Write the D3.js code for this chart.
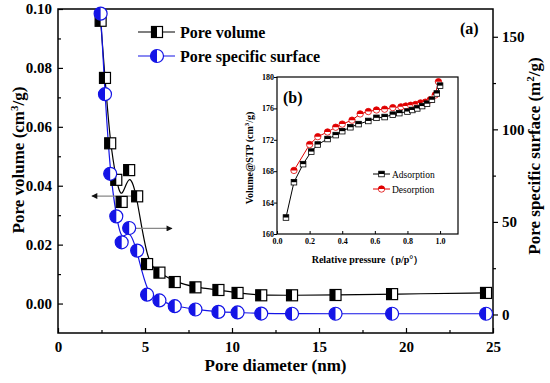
<!DOCTYPE html>
<html>
<head>
<meta charset="utf-8">
<script src="https://cdn.jsdelivr.net/npm/d3@7"></script>
<style>
  body { margin: 0; background: #fff; }
  svg { display: block; font-family: "Liberation Serif", "Times New Roman", serif; }
</style>
</head>
<body>
<script>
// pore size distribution (main plot)
var diameter = [2.45, 2.70, 3.0, 3.35, 3.66, 4.09, 4.55, 5.12, 5.83, 6.71, 7.9, 9.22, 10.32, 11.68, 13.45, 15.95, 19.2, 24.6];
var poreVolume = [0.096, 0.0766, 0.0544, 0.042, 0.0345, 0.0453, 0.0364, 0.0134, 0.0105, 0.0073, 0.0055, 0.0046, 0.0036, 0.0028, 0.0028, 0.0029, 0.0032, 0.0036];
var poreSurface = [162.5, 119, 76, 53, 39, 46.7, 34.5, 10.7, 7.6, 4.5, 2.7, 1.4, 1.1, 0.5, 0.4, 0.4, 0.4, 0.4];

// isotherm (inset)
var adsP = [0.055, 0.104, 0.16, 0.21, 0.25, 0.31, 0.36, 0.40, 0.45, 0.50, 0.56, 0.61, 0.66, 0.71, 0.75, 0.80, 0.83, 0.86, 0.89, 0.92, 0.95, 0.98, 1.0];
var adsV = [162.1, 166.6, 168.9, 170.5, 171.4, 172.1, 172.6, 173.1, 173.6, 174.0, 174.4, 174.8, 174.9, 175.2, 175.4, 175.6, 175.8, 176.0, 176.3, 176.6, 177.1, 177.9, 178.9];
var desP = [0.104, 0.20, 0.25, 0.31, 0.36, 0.40, 0.46, 0.51, 0.56, 0.61, 0.66, 0.71, 0.76, 0.79, 0.82, 0.85, 0.88, 0.91, 0.94, 0.97, 0.99];
var desV = [168.1, 171.4, 172.4, 173.0, 173.6, 174.0, 174.5, 175.3, 175.6, 175.8, 175.9, 176.1, 176.2, 176.3, 176.4, 176.5, 176.7, 176.8, 177.1, 177.7, 179.4];

var xTicks = [0, 5, 10, 15, 20, 25];
var leftTicks = [0.00, 0.02, 0.04, 0.06, 0.08, 0.10];
var rightTicks = [0, 50, 100, 150];
var insetXTicks = [0.0, 0.2, 0.4, 0.6, 0.8, 1.0];
var insetYTicks = [160, 164, 168, 172, 176, 180];

// arrows pointing to the axis each curve belongs to (data units)
var arrows = [
    {from: 4.55, to: 1.95, y: 0.0365, axis: 'left'},
    {from: 4.1, to: 6.55, y: 46.5, axis: 'right'}
];

var width = 550;
var height = 383;
var BLUE = '#1414e6';

var svg = d3.select('body').append('svg')
    .attr('width', width)
    .attr('height', height);

var defs = svg.append('defs');
defs.append('marker')
    .attr('id', 'head')
    .attr('viewBox', '0 0 10 10')
    .attr('refX', 9).attr('refY', 5)
    .attr('markerWidth', 9).attr('markerHeight', 6)
    .attr('markerUnits', 'userSpaceOnUse')
    .attr('orient', 'auto')
    .append('path')
    .attr('d', 'M0,0 L10,5 L0,10 Z')
    .attr('fill', '#111');

var m = {left: 58, right: 493, top: 9, bottom: 333};

var x = d3.scaleLinear().domain([0, 25]).range([m.left, m.right]);
var yL = d3.scaleLinear().domain([-0.01, 0.10]).range([m.bottom, m.top]);
var yR = d3.scaleLinear().domain([-10, 165]).range([m.bottom, m.top]);

// axes
var bottomAxis = svg.append('g')
    .attr('transform', 'translate(0,' + m.bottom + ')')
    .call(d3.axisBottom(x).tickValues(xTicks).tickFormat(d3.format('d')).tickSizeInner(-5).tickSizeOuter(0));
svg.append('g')
    .attr('transform', 'translate(0,' + m.bottom + ')')
    .call(d3.axisBottom(x).tickValues([2.5, 7.5, 12.5, 17.5, 22.5]).tickFormat('').tickSizeInner(-3).tickSizeOuter(0));

var leftAxis = svg.append('g')
    .attr('transform', 'translate(' + m.left + ',0)')
    .call(d3.axisLeft(yL).tickValues(leftTicks).tickFormat(d3.format('.2f')).tickSizeInner(-5).tickSizeOuter(0));
svg.append('g')
    .attr('transform', 'translate(' + m.left + ',0)')
    .call(d3.axisLeft(yL).tickValues([0.01, 0.03, 0.05, 0.07, 0.09]).tickFormat('').tickSizeInner(-3).tickSizeOuter(0));

var rightAxis = svg.append('g')
    .attr('transform', 'translate(' + m.right + ',0)')
    .call(d3.axisRight(yR).tickValues(rightTicks).tickSizeInner(5).tickSizeOuter(0));
svg.append('g')
    .attr('transform', 'translate(' + m.right + ',0)')
    .call(d3.axisRight(yR).tickValues([25, 75, 125]).tickFormat('').tickSizeInner(3).tickSizeOuter(0));

svg.selectAll('.domain').remove();
svg.selectAll('.tick line').attr('stroke', '#000').attr('stroke-width', 1.2);
[bottomAxis, leftAxis, rightAxis].forEach(function(a) {
    a.selectAll('text')
        .attr('font-family', '"Liberation Serif", serif')
        .attr('font-weight', 'bold')
        .attr('font-size', 15)
        .attr('fill', '#000');
});
bottomAxis.selectAll('text').attr('dy', '0.71em').attr('y', 8);
leftAxis.selectAll('text').attr('x', -6);
rightAxis.selectAll('text').attr('x', 9);

svg.append('rect')
    .attr('x', m.left).attr('y', m.top)
    .attr('width', m.right - m.left).attr('height', m.bottom - m.top)
    .attr('fill', 'none').attr('stroke', '#000').attr('stroke-width', 1.5);

// axis titles
svg.append('text')
    .attr('x', x(12.5)).attr('y', 371)
    .attr('text-anchor', 'middle')
    .attr('font-size', 17).attr('font-weight', 'bold')
    .text('Pore diameter (nm)');

var lt = svg.append('text')
    .attr('transform', 'translate(24,160) rotate(-90)')
    .attr('text-anchor', 'middle')
    .attr('font-size', 17).attr('font-weight', 'bold');
lt.append('tspan').text('Pore volume (cm');
lt.append('tspan').attr('dy', -6).attr('font-size', 11).text('3');
lt.append('tspan').attr('dy', 6).text('/g)');

var rt = svg.append('text')
    .attr('transform', 'translate(540,156) rotate(-90)')
    .attr('text-anchor', 'middle')
    .attr('font-size', 17).attr('font-weight', 'bold');
rt.append('tspan').text('Pore specific surface (m');
rt.append('tspan').attr('dy', -6).attr('font-size', 11).text('2');
rt.append('tspan').attr('dy', 6).text('/g)');

svg.append('text')
    .attr('x', 460).attr('y', 34)
    .attr('font-size', 16).attr('font-weight', 'bold')
    .text('(a)');

// curves
var volData = diameter.map(function(d, i) { return {x: d, y: poreVolume[i]}; });
var surfData = diameter.map(function(d, i) { return {x: d, y: poreSurface[i]}; });

svg.append('path')
    .datum(volData)
    .attr('fill', 'none').attr('stroke', '#000').attr('stroke-width', 1.2)
    .attr('d', d3.line().curve(d3.curveBasis)
        .x(function(d) { return x(d.x); })
        .y(function(d) { return yL(d.y); }));

svg.append('path')
    .datum(surfData)
    .attr('fill', 'none').attr('stroke', BLUE).attr('stroke-width', 1.2)
    .attr('d', d3.line().curve(d3.curveBasis)
        .x(function(d) { return x(d.x); })
        .y(function(d) { return yR(d.y); }));

// arrows
arrows.forEach(function(a) {
    var sy = a.axis === 'left' ? yL(a.y) : yR(a.y);
    svg.append('line')
        .attr('x1', x(a.from)).attr('x2', x(a.to))
        .attr('y1', sy).attr('y2', sy)
        .attr('stroke', '#888').attr('stroke-width', 1.2)
        .attr('marker-end', 'url(#head)');
});

function halfSquare(g, s) {
    g.append('rect')
        .attr('x', -s / 2).attr('y', -s / 2).attr('width', s).attr('height', s)
        .attr('fill', '#fff').attr('stroke', '#000').attr('stroke-width', 1.2);
    g.append('rect')
        .attr('x', -s / 2).attr('y', -s / 2).attr('width', s / 2).attr('height', s)
        .attr('fill', '#000');
}

function halfCircle(g, r) {
    g.append('circle')
        .attr('r', r).attr('fill', '#fff').attr('stroke', BLUE).attr('stroke-width', 1.2);
    g.append('path')
        .attr('d', 'M0,' + (-r) + ' A' + r + ',' + r + ' 0 0 0 0,' + r + ' Z')
        .attr('fill', BLUE);
}

svg.append('g').selectAll('g')
    .data(volData)
    .enter().append('g')
    .attr('transform', function(d) { return 'translate(' + x(d.x) + ',' + yL(d.y) + ')'; })
    .each(function() { halfSquare(d3.select(this), 11); });

svg.append('g').selectAll('g')
    .data(surfData)
    .enter().append('g')
    .attr('transform', function(d) { return 'translate(' + x(d.x) + ',' + yR(d.y) + ')'; })
    .each(function() { halfCircle(d3.select(this), 6.5); });

// legend
var legend = [
    {label: 'Pore volume', color: '#000', mark: 'square', y: 32},
    {label: 'Pore specific surface', color: BLUE, mark: 'circle', y: 56}
];
legend.forEach(function(l) {
    svg.append('line')
        .attr('x1', 138).attr('x2', 175).attr('y1', l.y).attr('y2', l.y)
        .attr('stroke', l.color).attr('stroke-width', 1.2);
    var g = svg.append('g').attr('transform', 'translate(157,' + l.y + ')');
    if (l.mark === 'square') halfSquare(g, 11); else halfCircle(g, 6.5);
    svg.append('text')
        .attr('x', 180).attr('y', l.y + 5.5)
        .attr('font-size', 16).attr('font-weight', 'bold')
        .text(l.label);
});

// ---------- inset ----------
var im = {left: 277, right: 458, top: 77, bottom: 234};
var ix = d3.scaleLinear().domain([0, 1.11]).range([im.left, im.right]);
var iy = d3.scaleLinear().domain([160, 180]).range([im.bottom, im.top]);

var inset = svg.append('g');
inset.append('rect')
    .attr('x', im.left).attr('y', im.top)
    .attr('width', im.right - im.left).attr('height', im.bottom - im.top)
    .attr('fill', '#fff');

var ixAxis = inset.append('g')
    .attr('transform', 'translate(0,' + im.bottom + ')')
    .call(d3.axisBottom(ix).tickValues(insetXTicks).tickFormat(d3.format('.1f')).tickSizeInner(-3).tickSizeOuter(0));
var iyAxis = inset.append('g')
    .attr('transform', 'translate(' + im.left + ',0)')
    .call(d3.axisLeft(iy).tickValues(insetYTicks).tickFormat(d3.format('d')).tickSizeInner(3).tickSizeOuter(0));
inset.selectAll('.domain').remove();
inset.selectAll('.tick line').attr('stroke', '#000');
inset.selectAll('.tick text')
    .attr('font-family', '"Liberation Serif", serif')
    .attr('font-weight', 'bold').attr('font-size', 8).attr('fill', '#000');
ixAxis.selectAll('text').attr('y', 4);
iyAxis.selectAll('text').attr('x', -3);

inset.append('rect')
    .attr('x', im.left).attr('y', im.top)
    .attr('width', im.right - im.left).attr('height', im.bottom - im.top)
    .attr('fill', 'none').attr('stroke', '#000').attr('stroke-width', 1.2);

inset.append('text')
    .attr('x', (im.left + im.right) / 2).attr('y', 263)
    .attr('text-anchor', 'middle')
    .attr('font-size', 10).attr('font-weight', 'bold')
    .text('Relative pressure（p/p°）');

var iyt = inset.append('text')
    .attr('transform', 'translate(253,158) rotate(-90)')
    .attr('text-anchor', 'middle')
    .attr('font-size', 10).attr('font-weight', 'bold');
iyt.append('tspan').text('Volume@STP (cm');
iyt.append('tspan').attr('dy', -4).attr('font-size', 7).text('3');
iyt.append('tspan').attr('dy', 4).text('/g)');

inset.append('text')
    .attr('x', 283).attr('y', 103)
    .attr('font-size', 16).attr('font-weight', 'bold')
    .text('(b)');

var adsData = adsP.map(function(p, i) { return {x: p, y: adsV[i]}; });
var desData = desP.map(function(p, i) { return {x: p, y: desV[i]}; });
var iline = d3.line()
    .x(function(d) { return ix(d.x); })
    .y(function(d) { return iy(d.y); });

inset.append('path').datum(desData)
    .attr('fill', 'none').attr('stroke', '#e00000').attr('stroke-width', 1).attr('d', iline);
inset.append('path').datum(adsData)
    .attr('fill', 'none').attr('stroke', '#000').attr('stroke-width', 1).attr('d', iline);

function smallSquare(g) {
    g.append('rect').attr('x', -2.8).attr('y', -2.8).attr('width', 5.6).attr('height', 5.6)
        .attr('fill', '#fff').attr('stroke', '#000').attr('stroke-width', 0.8);
    g.append('rect').attr('x', -2.8).attr('y', -2.8).attr('width', 5.6).attr('height', 2.8)
        .attr('fill', '#000');
}
function smallCircle(g) {
    g.append('circle').attr('r', 3.2)
        .attr('fill', '#fff').attr('stroke', '#e00000').attr('stroke-width', 0.8);
    g.append('path').attr('d', 'M-3.2,0 A3.2,3.2 0 0 1 3.2,0 Z').attr('fill', '#e00000');
}

inset.append('g').selectAll('g')
    .data(desData).enter().append('g')
    .attr('transform', function(d) { return 'translate(' + ix(d.x) + ',' + iy(d.y) + ')'; })
    .each(function() { smallCircle(d3.select(this)); });
inset.append('g').selectAll('g')
    .data(adsData).enter().append('g')
    .attr('transform', function(d) { return 'translate(' + ix(d.x) + ',' + iy(d.y) + ')'; })
    .each(function() { smallSquare(d3.select(this)); });

var ilegend = [
    {label: 'Adsorption', color: '#000', y: 174},
    {label: 'Desorption', color: '#e00000', y: 189}
];
ilegend.forEach(function(l, i) {
    inset.append('line')
        .attr('x1', 373).attr('x2', 390).attr('y1', l.y).attr('y2', l.y)
        .attr('stroke', l.color).attr('stroke-width', 1);
    var g = inset.append('g').attr('transform', 'translate(381.5,' + l.y + ')');
    if (i === 0) smallSquare(g); else smallCircle(g);
    inset.append('text')
        .attr('x', 392).attr('y', l.y + 3.5)
        .attr('font-size', 9.5)
        .text(l.label);
});
</script>
</body>
</html>
